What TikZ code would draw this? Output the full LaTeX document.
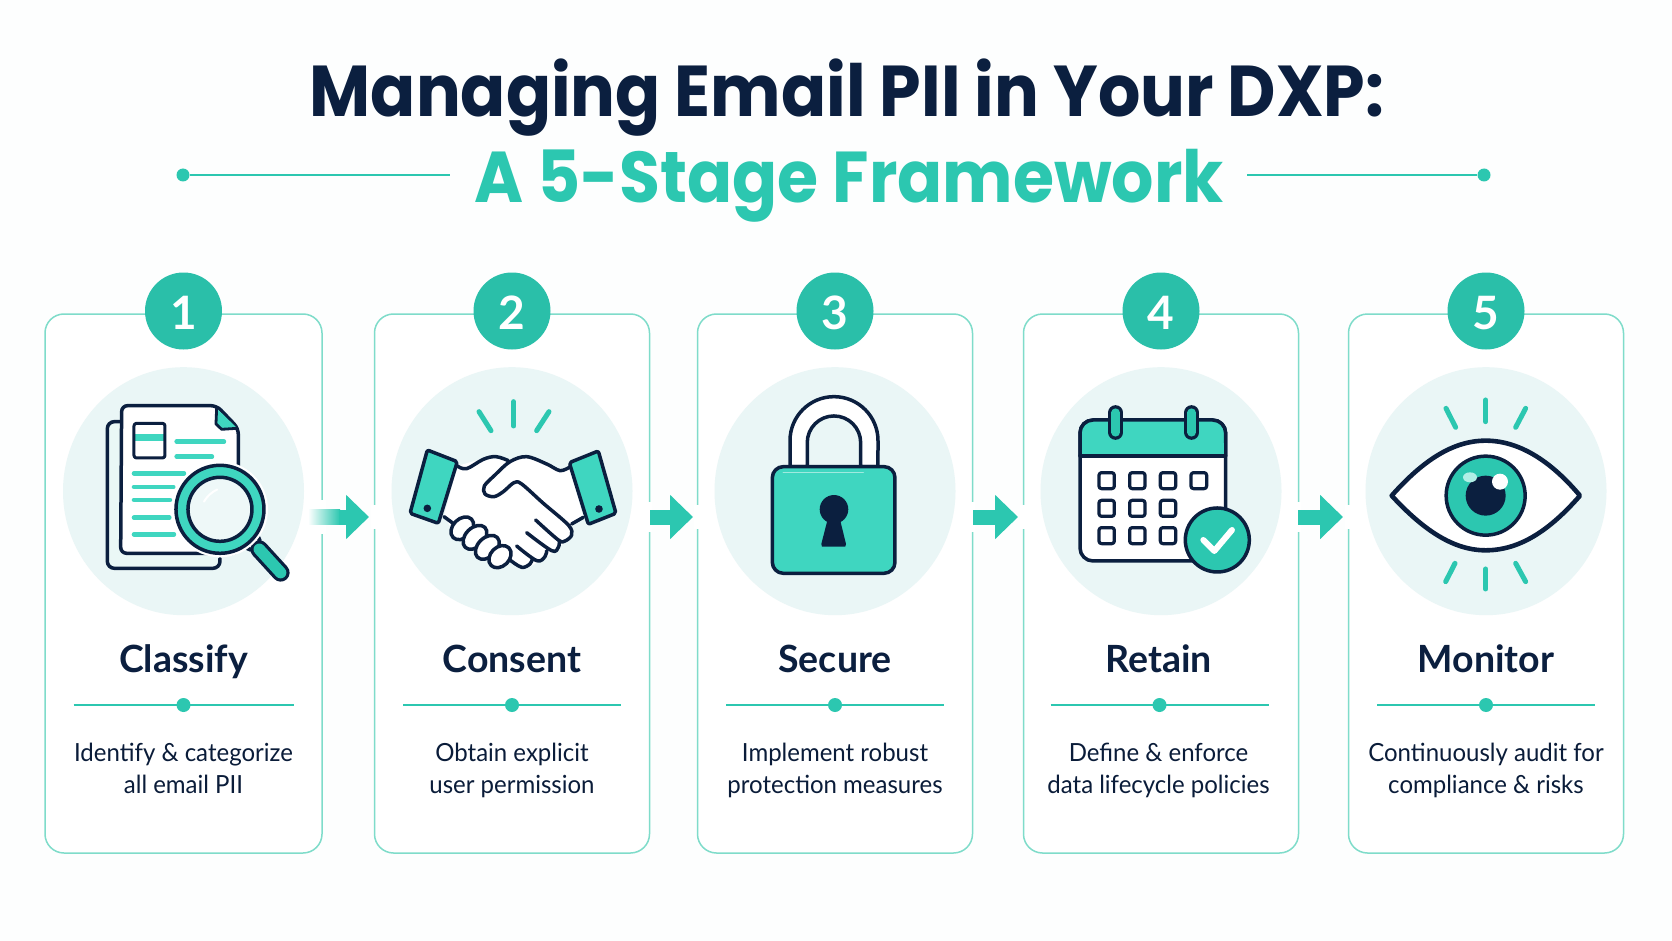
\documentclass[tikz,border=0pt]{standalone}
\usepackage{fontspec}
\usepackage{xcolor}
\usepackage{tikz}
\usetikzlibrary{shapes, arrows.meta, positioning}
\setmainfont{Lato}
\newfontfamily\headfont[FakeStretch=0.924]{Poppins}
\newfontfamily\descfont[FakeStretch=0.96]{Lato}
\newcommand{\twolines}[2]{\strut #1\\\strut #2}
\definecolor{pagebg}{HTML}{FDFEFE}
\definecolor{navy}{HTML}{0B1F3F}
\definecolor{teal}{HTML}{2CC7B0}
\definecolor{mint}{HTML}{3FD6C0}
\definecolor{pale}{HTML}{EAF6F6}
\definecolor{cardline}{HTML}{7FDCCA}

\begin{document}
\begin{tikzpicture}[
        x=1pt, y=-1pt,
        card/.style={rectangle, draw=cardline, line width=1.5pt, rounded corners=19pt, fill=white, minimum width=275pt, minimum height=539pt, outer sep=0pt},
        badge/.style={circle, fill=teal!96!black, text=white, minimum size=77pt, inner sep=0pt, text height=36pt, text depth=0pt, font=\fontsize{46}{46}\selectfont\bfseries},
        halo/.style={ellipse, fill=pale, minimum width=241pt, minimum height=248pt, inner sep=0pt},
        stagename/.style={anchor=base, text=navy, inner sep=0pt, font=\fontsize{37.5}{38}\selectfont\bfseries},
        stagetext/.style={align=center, text=navy!90!black, inner sep=0pt, font=\descfont\fontsize{25}{32}\selectfont},
        linedot/.style={circle, fill=teal, minimum size=14pt, inner sep=0pt},
        titledot/.style={circle, fill=teal, minimum size=13pt, inner sep=0pt},
        rulebar/.style={draw=teal, line width=2.4pt},
        flow/.style={draw=teal, line width=15pt, -{Triangle[length=23pt, width=43pt]}},
        ink/.style={draw=navy, line width=3.5pt, line join=round, line cap=round},
        spark/.style={draw=teal, line width=5pt, line cap=round},
        mintline/.style={draw=mint, line width=4.5pt, line cap=round},
        icon/.style 2 args={shift={(#1,#2)}, x=0.3333pt, y=-0.3333pt}
    ]
        \useasboundingbox (0,0) rectangle (1672,941);
        \fill[pagebg] (0,0) rectangle (1672,941);

        % Title
        \node[anchor=base, text=navy, inner sep=0pt, font=\headfont\fontsize{72}{72}\selectfont\bfseries] (title) at (847,117) {Managing Email PII in Your DXP:};
        \node[anchor=base, text=teal, inner sep=0pt, font=\headfont\fontsize{72}{72}\selectfont\bfseries] (subtitle) at (849,203) {A 5-Stage Framework};
        \node[titledot] (dotleft) at (183,175) {};
        \node[titledot] (dotright) at (1484,175) {};
        \coordinate (endleft) at (450,175);
        \coordinate (endright) at (1247,175);
        \draw[rulebar] (dotleft) -- (endleft);
        \draw[rulebar] (dotright) -- (endright);

        % Cards
        \node[card, minimum width=277pt] (card1) at (183.5,583.5) {};
        \node[card, right=52.5pt of card1] (card2) {};
        \node[card, right=48pt of card2] (card3) {};
        \node[card, right=51pt of card3] (card4) {};
        \node[card, right=50pt of card4] (card5) {};

        % Number badges
        \node[badge, yshift=3pt] (badge1) at (card1.north) {1};
        \node[badge, yshift=3pt] (badge2) at (card2.north) {2};
        \node[badge, yshift=3pt] (badge3) at (card3.north) {3};
        \node[badge, yshift=3pt] (badge4) at (card4.north) {4};
        \node[badge, yshift=3pt] (badge5) at (card5.north) {5};

        % Pale discs
        \node[halo, below=53pt of card1.north] (halo1) {};
        \node[halo, below=53pt of card2.north] (halo2) {};
        \node[halo, below=53pt of card3.north] (halo3) {};
        \node[halo, below=53pt of card4.north] (halo4) {};
        \node[halo, below=53pt of card5.north] (halo5) {};

        % Stage names
        \node[stagename] (name1) at ([yshift=-358.5pt]card1.north) {Classify};
        \node[stagename] (name2) at ([yshift=-358.5pt]card2.north) {Consent};
        \node[stagename] (name3) at ([yshift=-358.5pt]card3.north) {Secure};
        \node[stagename] (name4) at ([xshift=-2.5pt, yshift=-358.5pt]card4.north) {Retain};
        \node[stagename] (name5) at ([yshift=-358.5pt]card5.north) {Monitor};

        % Rules under the names
        \node[linedot] (rule1) at ([yshift=-391pt]card1.north) {};
        \node[linedot] (rule2) at ([yshift=-391pt]card2.north) {};
        \node[linedot] (rule3) at ([yshift=-391pt]card3.north) {};
        \node[linedot] (rule4) at ([xshift=-1.5pt, yshift=-391pt]card4.north) {};
        \node[linedot] (rule5) at ([yshift=-391pt]card5.north) {};
        \draw[rulebar] ([xshift=-110pt]rule1.center) -- ([xshift=110pt]rule1.center);
        \draw[rulebar] ([xshift=-109pt]rule2.center) -- ([xshift=109pt]rule2.center);
        \draw[rulebar] ([xshift=-109pt]rule3.center) -- ([xshift=109pt]rule3.center);
        \draw[rulebar] ([xshift=-109pt]rule4.center) -- ([xshift=109pt]rule4.center);
        \draw[rulebar] ([xshift=-109pt]rule5.center) -- ([xshift=109pt]rule5.center);

        % Stage descriptions
        \node[stagetext] (text1) at ([yshift=-456.6pt]card1.north) {\twolines{Identify \& categorize}{all email PII}};
        \node[stagetext] (text2) at ([yshift=-456.6pt]card2.north) {\twolines{Obtain explicit}{user permission}};
        \node[stagetext] (text3) at ([yshift=-456.6pt]card3.north) {\twolines{Implement robust}{protection measures}};
        \node[stagetext] (text4) at ([xshift=-2.5pt, yshift=-456.6pt]card4.north) {\twolines{Define \& enforce}{data lifecycle policies}};
        \node[stagetext] (text5) at ([yshift=-456.6pt]card5.north) {\twolines{Continuously audit for}{compliance \& risks}};

        % Arrows between the cards
        \fill[white] (318,500) rectangle (326,534);
        \fill[white] (371,505) rectangle (378,529);
        \fill[white] (646,502) rectangle (652,532);
        \fill[white] (694,505) rectangle (700,529);
        \fill[white] (969,502) rectangle (975,532);
        \fill[white] (1020,505) rectangle (1026,529);
        \fill[white] (1295,502) rectangle (1301,532);
        \fill[white] (1345,505) rectangle (1351,529);
        \shade[left color=white, right color=teal] (308,509.5) rectangle (340,524.5);
        \coordinate (tail1) at (339,517);
        \coordinate (head1) at (369,517);
        \coordinate (tail2) at (650,517);
        \coordinate (head2) at (693,517);
        \coordinate (tail3) at (973,517);
        \coordinate (head3) at (1018,517);
        \coordinate (tail4) at (1298,517);
        \coordinate (head4) at (1343,517);
        \draw[flow] (tail1) -- (head1);
        \draw[flow] (tail2) -- (head2);
        \draw[flow] (tail3) -- (head3);
        \draw[flow] (tail4) -- (head4);

        % Icon 1: papers and lens
        \begin{scope}[icon={0}{240}]
            \draw[ink, fill=pale!70!cardline!40!white, rounded corners=7pt] (360,545) -- (322,545) -- (322,985) -- (660,985) -- (660,955);
            \draw[ink, fill=white, rounded corners=6pt] (650,497) -- (365,497) -- (362,940) -- (640,940) -- (715,940) -- (715,565) -- cycle;
            \fill[mint] (650,505) -- (712,565) -- (665,568) -- (648,552) -- cycle;
            \draw[ink, line width=2.8pt] (650,505) -- (648,552) -- (665,568) -- (712,565);
            \fill[mint] (400,582) rectangle (497,602);
            \draw[ink, rounded corners=2.5pt, line width=3pt] (402,550) rectangle (495,654);
            \draw[mintline] (530,605) -- (672,605);
            \draw[mintline] (530,650) -- (636,650);
            \draw[mintline] (402,700) -- (552,700);
            \draw[mintline] (402,741) -- (520,741);
            \draw[mintline] (402,780) -- (510,780);
            \draw[mintline] (402,833) -- (508,833);
            \draw[mintline] (402,883) -- (522,883);
            \draw[draw=navy, line width=10pt, line cap=round] (750,920) -- (770,900);
            \draw[draw=white, line width=5pt] (750,920) -- (770,900);
            \draw[draw=navy, line width=18pt, line cap=round] (778,928) -- (842,998);
            \draw[draw=teal, line width=11.5pt, line cap=round] (778,928) -- (842,998);
            \fill[white] (660,808) circle (48pt);
            \fill[mint] (660,808) circle (44pt);
            \draw[ink] (660,808) circle (44pt);
            \draw[ink, fill=pale!80!white] (660,808) circle (32pt);
            \draw[draw=white, line width=2pt, line cap=round] (612,785) arc[start angle=150, end angle=115, radius=30pt];
        \end{scope}

        % Icon 2: handshake
        \begin{scope}[icon={370}{340}]
            \draw[draw=teal, line width=5pt, line cap=round] (327,215) -- (363,272);
            \draw[draw=teal, line width=5pt, line cap=round] (431,185) -- (431,258);
            \draw[draw=teal, line width=5pt, line cap=round] (537,215) -- (500,272);
            \fill[white] (262,378) -- (340,355) -- (410,358) -- (470,350) -- (570,390) -- (598,380) -- (640,530) -- (605,550) -- (600,590) -- (565,625) -- (525,655) -- (480,680) -- (415,665) -- (350,650) -- (250,575) -- (222,528) -- cycle;
            \draw[ink] plot[smooth, tension=0.6] coordinates {(262,378) (290,386) (340,358) (378,350) (415,362)};
            \draw[ink] plot[smooth, tension=0.55] coordinates {(598,382) (570,392) (530,372) (470,350) (420,365) (375,405) (343,438) (345,462) (372,470) (400,455) (432,428) (455,432) (520,490) (595,555) (605,585) (585,603) (565,600) (497,540)};
            \draw[ink] plot[smooth, tension=0.6] coordinates {(470,578) (545,632) (565,622) (568,602)};
            \draw[ink] plot[smooth, tension=0.6] coordinates {(440,618) (500,662) (525,650) (530,632)};
            \draw[ink] plot[smooth, tension=0.6] coordinates {(420,660) (455,682) (480,672) (487,657)};
            \draw[ink] (605,552) -- (640,532);
            \draw[ink] (222,530) -- (252,552);
            \draw[ink, fill=white] (277,565) ellipse[x radius=13pt, y radius=9.5pt, rotate=45];
            \draw[ink, fill=white] (315,592) ellipse[x radius=14pt, y radius=9.5pt, rotate=45];
            \draw[ink, fill=white] (352,622) ellipse[x radius=14pt, y radius=9.5pt, rotate=45];
            \draw[ink, fill=white] (390,650) ellipse[x radius=12.5pt, y radius=9.5pt, rotate=45];
            \draw[ink, fill=mint, rounded corners=2pt] (172,330) -- (262,365) -- (205,550) -- (120,520) -- cycle;
            \draw[ink, fill=mint, rounded corners=2pt] (598,368) -- (685,333) -- (738,520) -- (655,553) -- cycle;
            \fill[navy] (172,505) circle (3.8pt);
            \fill[navy] (687,507) circle (3.8pt);
        \end{scope}

        % Icon 3: padlock
        \begin{scope}[icon={700}{360}]
            \draw[ink, fill=white] (270,320) -- (270,242) arc[start angle=180, end angle=0, radius=44pt] -- (534,320) -- (482,320) -- (482,248) arc[start angle=0, end angle=180, radius=26.7pt] -- (322,320) -- cycle;
            \draw[ink, fill=mint, rounded corners=11pt] (217,320) rectangle (585,640);
            \draw[draw=white!50!mint, line width=1.5pt, line cap=round] (250,337) -- (490,337);
            \fill[navy] (402,448) circle (14.3pt);
            \fill[navy] (385,470) -- (364,552) -- (366,560) -- (436,560) -- (438,552) -- (418,470) -- cycle;
        \end{scope}

        % Icon 4: calendar
        \begin{scope}[icon={1030}{360}]
            \draw[ink, fill=white, rounded corners=13pt] (150,180) rectangle (587,603);
            \draw[ink, fill=mint, rounded corners=13pt] (150,288) -- (150,180) -- (587,180) -- (587,288);
            \fill[mint] (155,250) rectangle (582,283);
            \draw[ink] (150,288) -- (587,288);
            \draw[draw=navy, line width=15pt, line cap=round] (257,158) -- (257,217);
            \draw[draw=teal, line width=8.5pt, line cap=round] (257,158) -- (257,217);
            \draw[draw=navy, line width=15pt, line cap=round] (485,158) -- (485,217);
            \draw[draw=teal, line width=8.5pt, line cap=round] (485,158) -- (485,217);
            \draw[ink, rounded corners=2.5pt, line width=3.2pt] (207,338) rectangle (253,386);
            \draw[ink, rounded corners=2.5pt, line width=3.2pt] (299,338) rectangle (345,386);
            \draw[ink, rounded corners=2.5pt, line width=3.2pt] (391,338) rectangle (437,386);
            \draw[ink, rounded corners=2.5pt, line width=3.2pt] (483,338) rectangle (530,386);
            \draw[ink, rounded corners=2.5pt, line width=3.2pt] (207,421) rectangle (253,469);
            \draw[ink, rounded corners=2.5pt, line width=3.2pt] (299,421) rectangle (345,469);
            \draw[ink, rounded corners=2.5pt, line width=3.2pt] (391,421) rectangle (437,469);
            \draw[ink, rounded corners=2.5pt, line width=3.2pt] (207,503) rectangle (253,551);
            \draw[ink, rounded corners=2.5pt, line width=3.2pt] (299,503) rectangle (345,551);
            \draw[ink, rounded corners=2.5pt, line width=3.2pt] (391,503) rectangle (437,551);
            \draw[ink, fill=teal] (562,540) circle (32pt);
            \draw[draw=white, line width=6pt, line cap=round, line join=round] (520,540) -- (553,573) -- (606,510);
        \end{scope}

        % Icon 5: eye
        \begin{scope}[icon={1340}{360}]
            \draw[spark] (318,145) -- (347,202);
            \draw[spark] (437,120) -- (437,185);
            \draw[spark] (557,145) -- (527,202);
            \draw[spark] (345,610) -- (317,665);
            \draw[spark] (437,627) -- (437,687);
            \draw[spark] (527,610) -- (557,665);
            \draw[ink, line width=4.6pt, fill=white] (155,407) .. controls (250,300) and (340,242) .. (437,242) .. controls (535,242) and (630,300) .. (720,407) .. controls (630,510) and (540,571) .. (437,571) .. controls (340,571) and (250,510) .. cycle;
            \draw[ink, fill=teal] (437,407) circle (39.5pt);
            \fill[navy] (437,407) circle (20pt);
            \fill[white!60!mint] (390,352) ellipse[x radius=7pt, y radius=5pt];
            \fill[white] (480,365) circle (8pt);
        \end{scope}

    \end{tikzpicture}
\end{document}
